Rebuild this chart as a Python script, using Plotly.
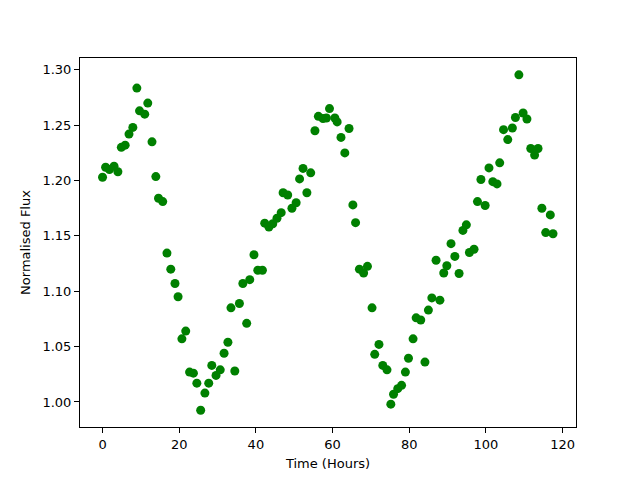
import plotly.graph_objects as go

time_hours = [0, 0.8, 1.8, 3.0, 4.0, 4.9, 5.9, 6.9, 7.9, 8.95,
              9.65, 11.0, 11.8, 12.9, 13.9, 14.6, 15.7, 16.8, 17.8, 18.9,
              19.7, 20.7, 21.7, 22.7, 23.7, 24.6, 25.6, 26.7, 27.7, 28.5,
              29.6, 30.7, 31.7, 32.7, 33.5, 34.5, 35.7, 36.6, 37.6, 38.4,
              39.5, 40.5, 41.7, 42.3, 43.4, 44.4, 45.5, 46.6, 47.1, 48.3,
              49.4, 50.5, 51.4, 52.3, 53.3, 54.3, 55.4, 56.3, 57.5, 58.4,
              59.2, 60.6, 61.2, 62.2, 63.2, 64.3, 65.3, 66.0, 67.0, 68.1,
              69.1, 70.3, 71.0, 72.1, 73.1, 74.2, 75.2, 75.9, 77.0, 78.0,
              79.0, 79.8, 81.0, 81.8, 83.0, 84.1, 85.0, 85.9, 87.0, 88.0,
              89.0, 89.8, 90.9, 91.9, 93.0, 94.0, 94.9, 95.7, 96.9, 97.8,
              98.7, 99.8, 100.8, 101.8, 102.9, 103.6, 104.6, 105.7, 106.9, 107.7,
              108.6, 109.7, 110.7, 111.7, 112.7, 113.6, 114.6, 115.6, 116.8, 117.5]

norm_flux = [1.203, 1.212, 1.210, 1.213, 1.208, 1.230, 1.232, 1.242, 1.248, 1.2835,
             1.263, 1.260, 1.270, 1.235, 1.2036, 1.184, 1.181, 1.1345, 1.120, 1.107,
             1.095, 1.057, 1.064, 1.027, 1.026, 1.017, 0.9925, 1.008, 1.017, 1.033,
             1.024, 1.029, 1.044, 1.054, 1.085, 1.028, 1.089, 1.107, 1.071, 1.1105,
             1.133, 1.119, 1.119, 1.1615, 1.158, 1.161, 1.166, 1.171, 1.189, 1.187,
             1.175, 1.180, 1.2015, 1.211, 1.189, 1.207, 1.245, 1.258, 1.256, 1.2565,
             1.265, 1.2565, 1.253, 1.239, 1.225, 1.247, 1.178, 1.162, 1.120, 1.1165,
             1.1225, 1.085, 1.043, 1.052, 1.033, 1.029, 0.998, 1.007, 1.012, 1.015,
             1.027, 1.0395, 1.057, 1.076, 1.074, 1.036, 1.083, 1.094, 1.128, 1.092,
             1.1165, 1.123, 1.143, 1.1315, 1.116, 1.155, 1.160, 1.135, 1.138, 1.181,
             1.201, 1.1775, 1.2114, 1.199, 1.197, 1.216, 1.246, 1.237, 1.2475, 1.257,
             1.2955, 1.261, 1.2556, 1.229, 1.223, 1.229, 1.175, 1.153, 1.169, 1.152]

x_ticks = [0, 20, 40, 60, 80, 100, 120]
y_ticks = [1.00, 1.05, 1.10, 1.15, 1.20, 1.25, 1.30]

fig = go.Figure()
fig.add_trace(go.Scatter(
    x=time_hours, y=norm_flux, mode="markers",
    marker=dict(color="#008000", size=9, line=dict(width=0)),
    showlegend=False,
))

axis_common = dict(
    showline=True, linecolor="black", linewidth=1, mirror=True,
    ticks="outside", ticklen=5, tickwidth=1, tickcolor="black",
    showgrid=False, zeroline=False, automargin=False,
    tickfont=dict(family="DejaVu Sans", size=13, color="black"),
)

fig.update_layout(
    width=640, height=480,
    margin=dict(l=80, r=64, t=58, b=53),
    paper_bgcolor="white", plot_bgcolor="white",
    font=dict(family="DejaVu Sans", size=13, color="black"),
    xaxis=dict(range=[-5.88, 123.5], tickvals=x_ticks,
               ticktext=[str(v) for v in x_ticks],
               title=dict(text="Time (Hours)", standoff=8,
                          font=dict(family="DejaVu Sans", size=13)),
               **axis_common),
    yaxis=dict(range=[0.9774, 1.3107], tickvals=y_ticks,
               ticktext=[f"{v:.2f}" for v in y_ticks],
               title=dict(text="Normalised Flux", standoff=8,
                          font=dict(family="DejaVu Sans", size=13)),
               **axis_common),
)

fig.write_html("out.html", config={"displayModeBar": False},
               post_script="document.body.style.margin='0';")
